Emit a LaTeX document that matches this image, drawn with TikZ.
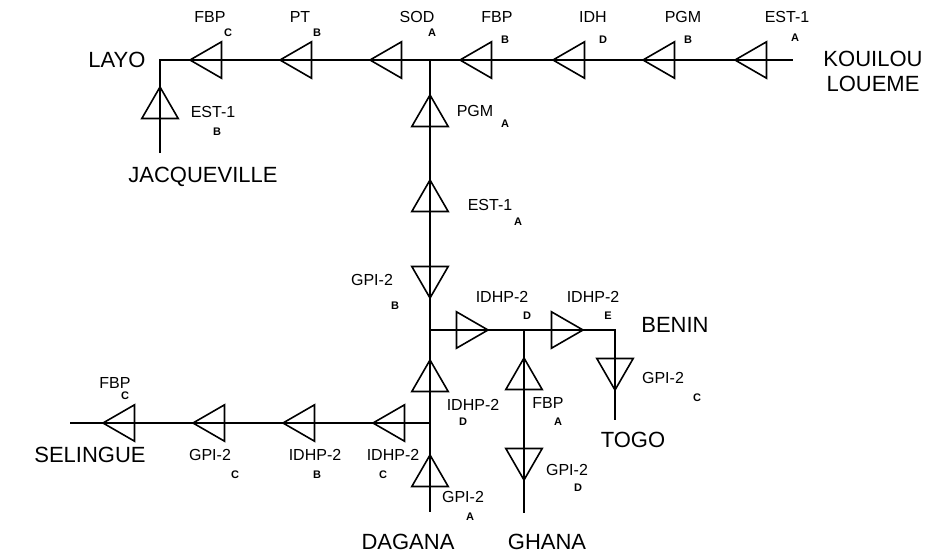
\documentclass[tikz,border=0pt]{standalone}
\usepackage{fontspec}
\setmainfont{Liberation Sans}
\usetikzlibrary{shapes.geometric}

\begin{document}
\begin{tikzpicture}[x=1pt,y=-1pt,
		amp/.style={regular polygon,regular polygon sides=3,minimum size=42pt,inner sep=0pt,draw,line width=1.6pt},
		ampleft/.style={amp,shape border rotate=90},
		ampright/.style={amp,shape border rotate=-90},
		ampdown/.style={amp,shape border rotate=180},
		site/.style={font=\fontsize{22}{25}\selectfont},
		tag/.style={font=\fontsize{16}{18}\selectfont},
		sub/.style={font=\bfseries\fontsize{11}{13}\selectfont}]
			\useasboundingbox (0,0) rectangle (932,554);
			% junctions and line ends
			\coordinate (layo) at (160,60); \coordinate (jacq) at (160,153);
			\coordinate (kend) at (793,60); \coordinate (sod) at (430,60);
			\coordinate (dend) at (430,512); \coordinate (bj) at (430,330);
			\coordinate (gj) at (524,330); \coordinate (gend) at (524,513);
			\coordinate (bend) at (615,330); \coordinate (tend) at (615,420);
			\coordinate (sj) at (430,423); \coordinate (send) at (70,423);
			\draw[line width=1.2pt] (jacq) -- (layo) -- (kend);
			\draw[line width=1.2pt] (sod) -- (dend);
			\draw[line width=1.2pt] (bj) -- (bend) -- (tend);
			\draw[line width=1.2pt] (gj) -- (gend);
			\draw[line width=1.2pt] (sj) -- (send);
			% amplifiers
			\node[ampleft] (fbpc) at (211,60) {}; \node[ampleft] (ptb) at (301,60) {};
			\node[ampleft] (soda) at (391,60) {}; \node[ampleft] (fbpb) at (481,60) {};
			\node[ampleft] (idhd) at (574,60) {}; \node[ampleft] (pgmb) at (664,60) {};
			\node[ampleft] (esta) at (756,60) {};
			\node[amp] (estb) at (160,108) {};
			\node[amp] (pgma) at (430,116) {};
			\node[amp] (estma) at (430,201) {};
			\node[ampdown] (gpib) at (430,277) {};
			\node[ampright] (idhpd) at (467,330) {}; \node[ampright] (idhpe) at (562,330) {};
			\node[ampdown] (gpic) at (615,369) {};
			\node[amp] (idhpdm) at (430,381) {};
			\node[amp] (gpia) at (430,476) {};
			\node[amp] (fbpa) at (524,379) {};
			\node[ampdown] (gpid) at (524,459) {};
			\node[ampleft] (idhpc) at (394,423) {}; \node[ampleft] (idhpb) at (304,423) {};
			\node[ampleft] (gpisc) at (214,423) {}; \node[ampleft] (fbpsc) at (124,423) {};
			% sites
			\node[site] (nlayo) at (117,60) {LAYO};
			\node[site,align=center] (nkouilou) at (873,71) {KOUILOU\\LOUEME};
			\node[site] (njacq) at (203,177) {JACQUEVILLE};
			\node[site] (nbenin) at (675,325) {BENIN};
			\node[site] (ntogo) at (633,440) {TOGO};
			\node[site] (nsel) at (90,455) {SELINGUE};
			\node[site] (ndag) at (408,542) {DAGANA};
			\node[site] (ngha) at (547,542) {GHANA};
			% labels
			\node[tag] (l1) at (210,17) {FBP}; \node[sub] (s1) at (228,33) {C};
			\node[tag] (l2) at (300,17) {PT}; \node[sub] (s2) at (317,33) {B};
			\node[tag] (l3) at (417,17) {SOD}; \node[sub] (s3) at (432,33) {A};
			\node[tag] (l4) at (497,17) {FBP}; \node[sub] (s4) at (505,40) {B};
			\node[tag] (l5) at (593,17) {IDH}; \node[sub] (s5) at (603,40) {D};
			\node[tag] (l6) at (683,17) {PGM}; \node[sub] (s6) at (688,40) {B};
			\node[tag] (l7) at (787,17) {EST-1}; \node[sub] (s7) at (795,38) {A};
			\node[tag] (l8) at (213,112) {EST-1}; \node[sub] (s8) at (217,132) {B};
			\node[tag] (l9) at (475,111) {PGM}; \node[sub] (s9) at (505,124) {A};
			\node[tag] (l10) at (490,205) {EST-1}; \node[sub] (s10) at (518,222) {A};
			\node[tag] (l11) at (372,280) {GPI-2}; \node[sub] (s11) at (395,306) {B};
			\node[tag] (l12) at (502,297) {IDHP-2}; \node[sub] (s12) at (527,316) {D};
			\node[tag] (l13) at (593,297) {IDHP-2}; \node[sub] (s13) at (608,316) {E};
			\node[tag] (l14) at (663,378) {GPI-2}; \node[sub] (s14) at (697,398) {C};
			\node[tag] (l15) at (473,405) {IDHP-2}; \node[sub] (s15) at (463,422) {D};
			\node[tag] (l16) at (463,497) {GPI-2}; \node[sub] (s16) at (470,517) {A};
			\node[tag] (l17) at (548,403) {FBP}; \node[sub] (s17) at (558,422) {A};
			\node[tag] (l18) at (567,470) {GPI-2}; \node[sub] (s18) at (578,488) {D};
			\node[tag] (l19) at (393,455) {IDHP-2}; \node[sub] (s19) at (383,475) {C};
			\node[tag] (l20) at (315,455) {IDHP-2}; \node[sub] (s20) at (317,475) {B};
			\node[tag] (l21) at (210,455) {GPI-2}; \node[sub] (s21) at (235,475) {C};
			\node[tag] (l22) at (115,383) {FBP}; \node[sub] (s22) at (125,396) {C};
		\end{tikzpicture}
\end{document}
